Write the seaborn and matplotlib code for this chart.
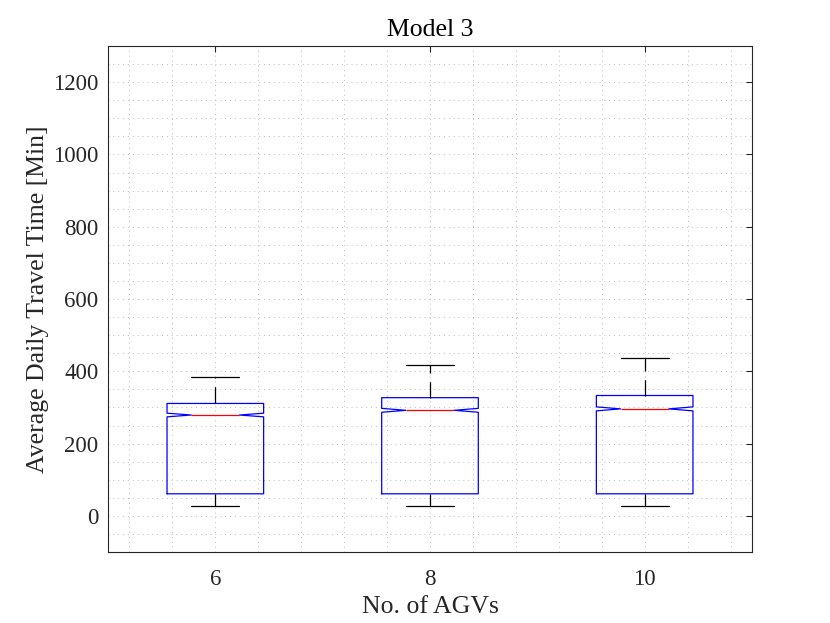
import numpy as np
import pandas as pd
import matplotlib
matplotlib.use("Agg")
import matplotlib.pyplot as plt
from matplotlib.ticker import MultipleLocator
import seaborn as sns

# ---- data (box summary per group) ----
agvs = ["6", "8", "10"]
whisker_low = [26, 26, 26]
q1 = [61, 61, 61]
median = [279, 292, 296]
q3 = [311, 327, 333]
whisker_high = [384, 418, 438]
n_obs = [6000, 6000, 6000]   # sample size implied by the narrow notches

# rebuild samples that reproduce exactly these quartiles / whiskers
rows = []
for g, lo, a, m, b, hi, n in zip(agvs, whisker_low, q1, median, q3, whisker_high, n_obs):
    vals = np.repeat([lo, a, m, b, hi], n // 5)
    rows.append(pd.DataFrame({"AGVs": g, "Time": vals}))
df = pd.concat(rows, ignore_index=True)

sns.set_theme(style="white")
plt.rcParams["font.family"] = ["Liberation Serif", "DejaVu Serif"]
plt.rcParams["axes.edgecolor"] = "#262626"
plt.rcParams["axes.linewidth"] = 0.8

fig = plt.figure(figsize=(8.3, 6.23), dpi=100)
ax = fig.add_axes([108 / 830, 1 - 552 / 623, (752 - 108) / 830, (552 - 46) / 623])

sns.boxplot(
    data=df, x="AGVs", y="Time", order=agvs, ax=ax,
    notch=True, fill=False, width=0.45, showfliers=False, linewidth=0.9,
    boxprops=dict(color="blue"),
    medianprops=dict(color="red"),
    whiskerprops=dict(color="black", linestyle=(0, (13, 7))),
    capprops=dict(color="black"),
)

ax.set_xlim(-0.5, 2.5)
ax.set_ylim(-100, 1300)
ax.yaxis.set_major_locator(MultipleLocator(200))
ax.yaxis.set_minor_locator(MultipleLocator(50))
ax.xaxis.set_minor_locator(MultipleLocator(0.2))
ax.grid(True, which="both", color="#bdbdbd", linestyle=(0, (1, 4)), linewidth=0.7)
ax.set_axisbelow(True)

ax.tick_params(which="major", direction="in", length=4.5, width=0.8, color="#262626",
               top=True, right=True, labelsize=16.5, labelcolor="#262626")
ax.tick_params(axis="y", which="major", pad=7)
ax.tick_params(axis="x", which="major", pad=12.5)
ax.tick_params(which="minor", length=0)
for s in ax.spines.values():
    s.set_visible(True)
    s.set_color("#262626")
    s.set_linewidth(0.8)

ax.set_title("Model 3", fontsize=18.5, color="black", pad=7)
ax.set_xlabel("No. of AGVs", fontsize=18.5, color="#262626", labelpad=4)
ax.set_ylabel("Average Daily Travel Time [Min]", fontsize=18.5, color="#262626", labelpad=3)

fig.savefig("out.png", dpi=100)
